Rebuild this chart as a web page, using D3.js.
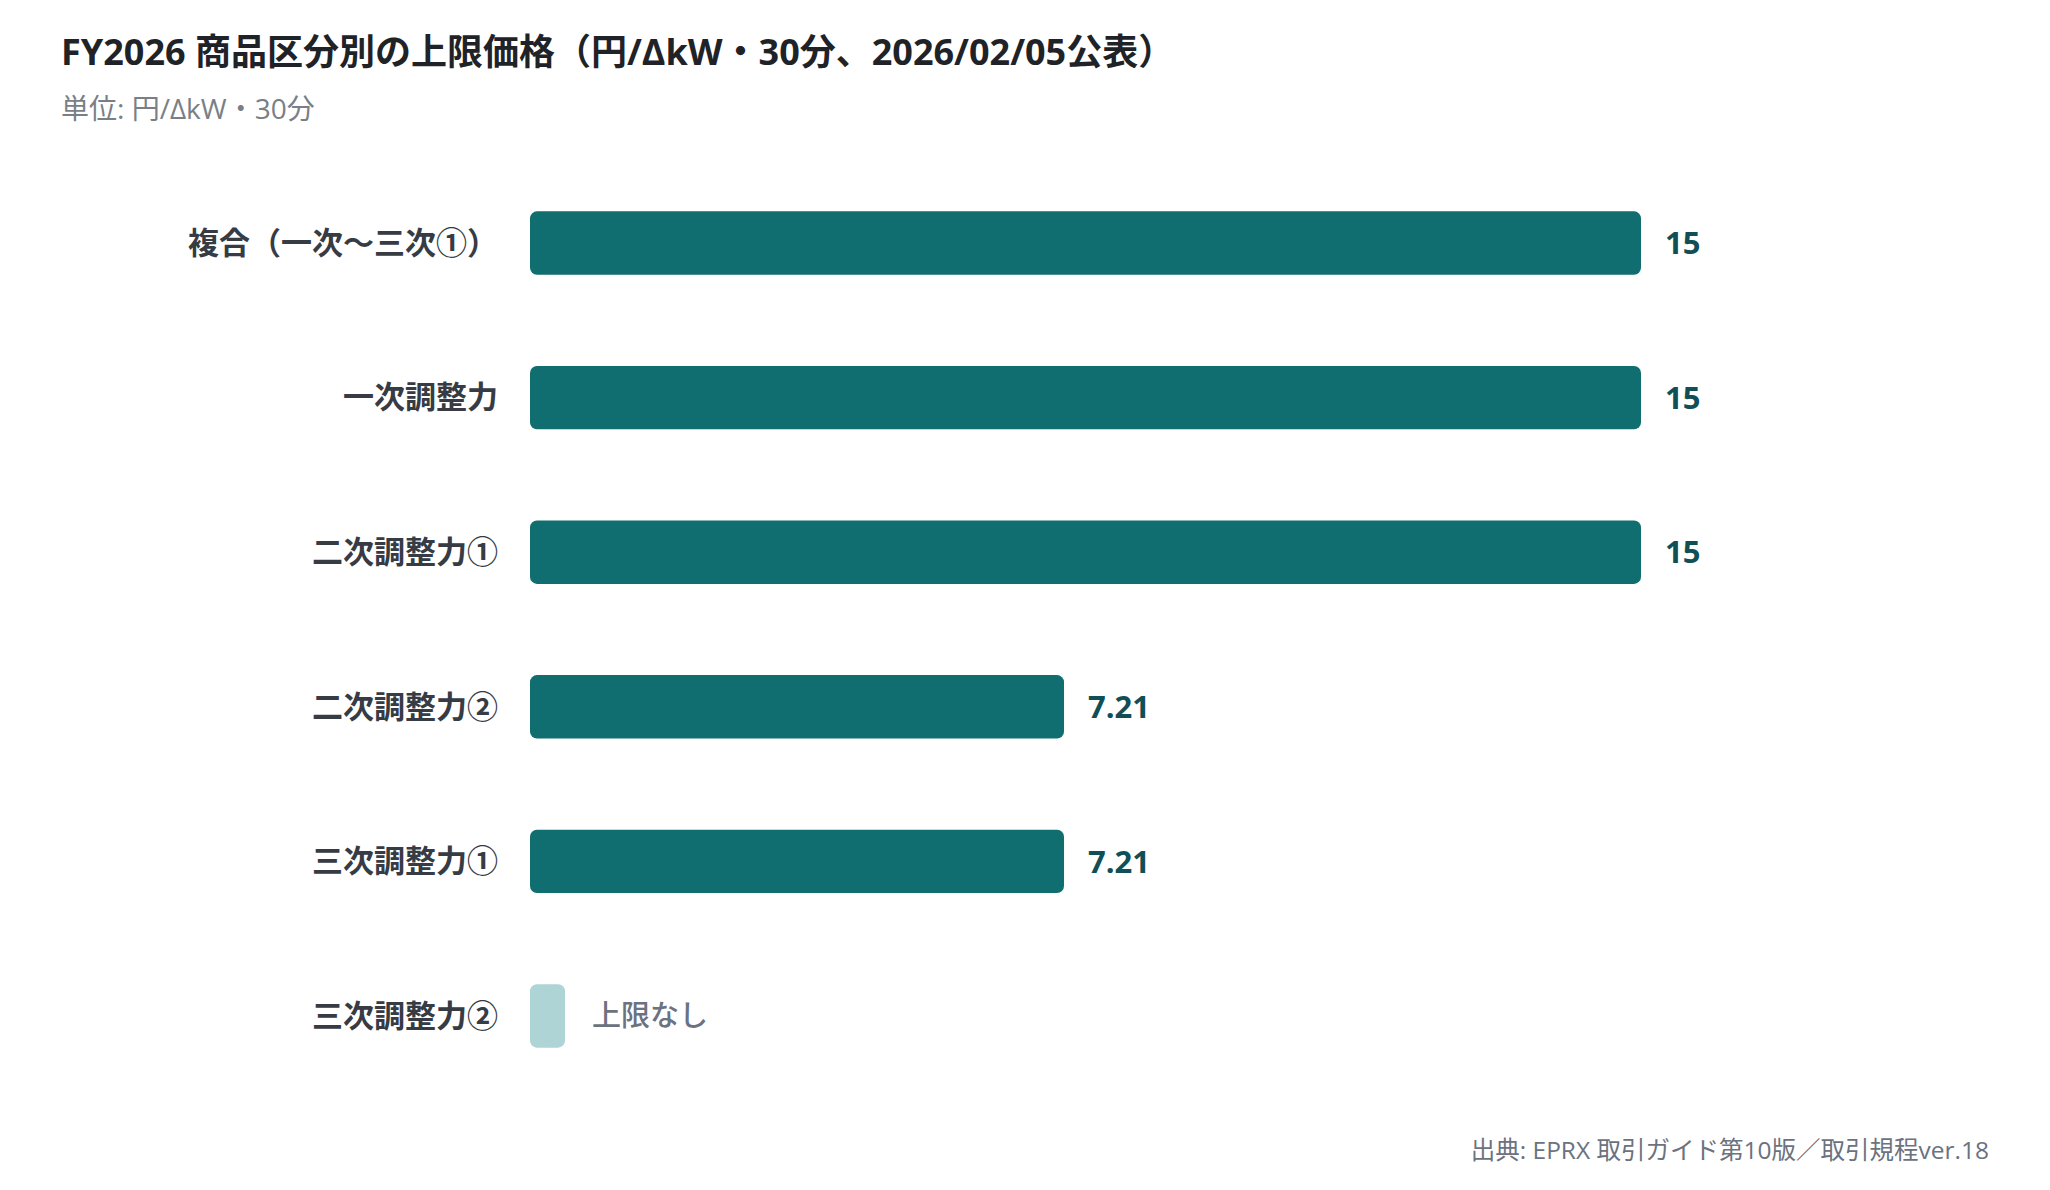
<!DOCTYPE html>
<html>
<head>
<meta charset="utf-8">
<script src="https://cdn.jsdelivr.net/npm/d3@7"></script>
<style>
  body { margin: 0; background: #ffffff; }
  svg text { font-family: "Open Sans", "Noto Sans CJK JP", sans-serif; }
</style>
</head>
<body>
<svg id="chart" width="2050" height="1190"></svg>
<script>
// data
var categories = ['複合（一次～三次①）', '一次調整力', '二次調整力①', '二次調整力②', '三次調整力①', '三次調整力②'];
var values = [15, 15, 15, 7.21, 7.21, null];
var value_labels = ['15', '15', '15', '7.21', '7.21', '上限なし'];

var title = 'FY2026 商品区分別の上限価格（円/ΔkW・30分、2026/02/05公表）';
var subtitle = '単位: 円/ΔkW・30分';
var source = '出典: EPRX 取引ガイド第10版／取引規程ver.18';

var svg = d3.select('#chart');
var width = +svg.attr('width'), height = +svg.attr('height');

var x0 = 530, x1 = 1641;
var x_scale = d3.scaleLinear().domain([0, 15]).range([x0, x1]);
var y_scale = d3.scaleBand().domain(categories).range([165, 1094]).paddingInner(0.59).paddingOuter(0.3);

// title
svg.append('text').attr('x', 61).attr('y', 65)
	.attr('font-size', 36).attr('font-weight', 700).attr('fill', '#1f2328')
	.text(title);
svg.append('text').attr('x', 61).attr('y', 119)
	.attr('font-size', 28).attr('fill', '#7a7f86')
	.text(subtitle);

// bars
var rows = categories.map((c, i) => ({cat: c, value: values[i], label: value_labels[i]}));

svg.selectAll('rect.bar').data(rows).enter().append('rect')
	.attr('class', 'bar')
	.attr('x', x0)
	.attr('y', d => y_scale(d.cat))
	.attr('width', d => d.value == null ? 35 : x_scale(d.value) - x0)
	.attr('height', y_scale.bandwidth())
	.attr('rx', 7).attr('ry', 7)
	.attr('fill', d => d.value == null ? '#aed4d5' : '#116e70');

// category labels
svg.selectAll('text.cat').data(rows).enter().append('text')
	.attr('class', 'cat')
	.attr('x', 498)
	.attr('y', d => y_scale(d.cat) + y_scale.bandwidth() / 2)
	.attr('dy', '0.35em')
	.attr('text-anchor', 'end')
	.attr('font-size', 31).attr('font-weight', 700).attr('fill', '#363b44')
	.text(d => d.cat);

// value labels
svg.selectAll('text.val').data(rows).enter().append('text')
	.attr('class', 'val')
	.attr('x', d => d.value == null ? x0 + 35 + 27 : x_scale(d.value) + 24)
	.attr('y', d => y_scale(d.cat) + y_scale.bandwidth() / 2)
	.attr('dy', '0.36em')
	.attr('font-size', d => d.value == null ? 29 : 31)
	.attr('font-weight', d => d.value == null ? 500 : 700)
	.attr('fill', d => d.value == null ? '#6b7280' : '#0f4f55')
	.text(d => d.label);

// source
svg.append('text').attr('x', 1989).attr('y', 1159)
	.attr('text-anchor', 'end')
	.attr('font-size', 24.5).attr('fill', '#6b7280')
	.text(source);
</script>
</body>
</html>
